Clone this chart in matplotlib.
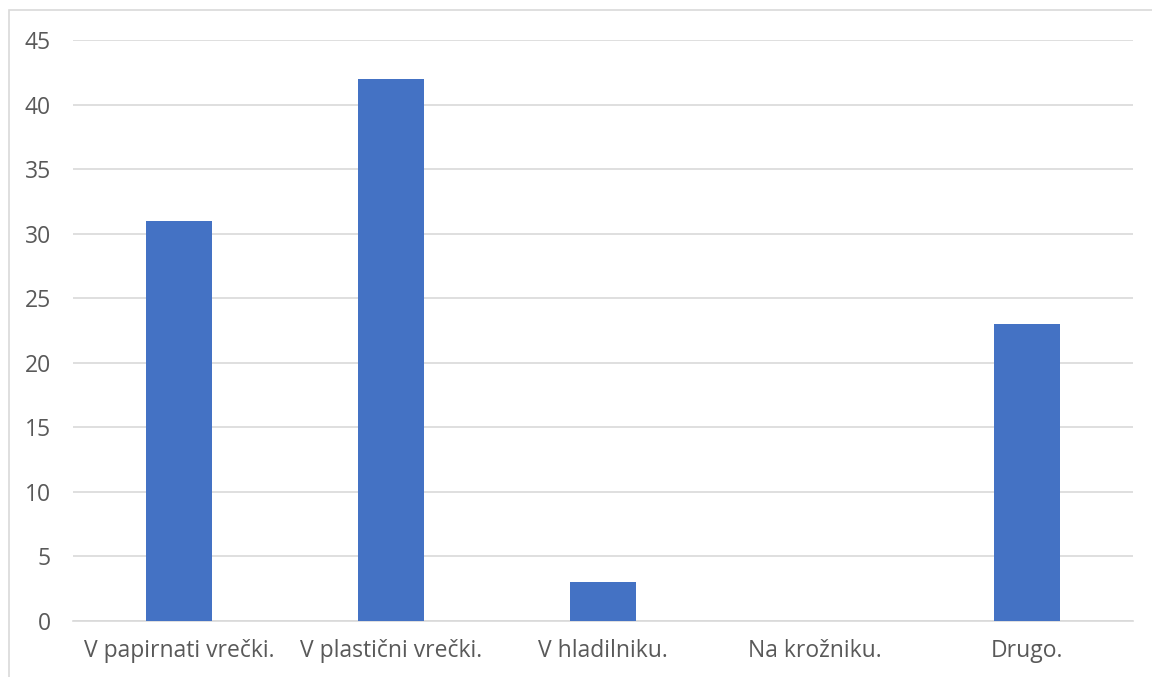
import matplotlib.pyplot as plt
from matplotlib.patches import Rectangle

categories = ['V papirnati vrečki.', 'V plastični vrečki.', 'V hladilniku.',
              'Na krožniku.', 'Drugo.']
values = [31, 42, 3, 0, 23]
y_ticks = [0, 5, 10, 15, 20, 25, 30, 35, 40, 45]

plt.rcParams['font.family'] = ['Open Sans', 'DejaVu Sans']

fig = plt.figure(figsize=(11.52, 6.77), dpi=100)
ax = fig.add_axes([73 / 1152, 1 - 621 / 677, 1060 / 1152, 581 / 677])

# outer chart frame (runs off the right and bottom of the image)
fig.patches.append(Rectangle((9 / 1152, -0.05), 1.1, 1 - 10 / 677 + 0.05,
                             transform=fig.transFigure, fill=False,
                             edgecolor='#d9d9d9', linewidth=1.2))

x = range(len(categories))
ax.bar(x, values, width=0.31, color='#4472c4', zorder=3)

ax.set_xlim(-0.5, len(categories) - 0.5)
ax.set_ylim(0, 45)
ax.set_yticks(y_ticks)
ax.set_xticks(list(x))
ax.set_xticklabels(categories)
ax.grid(axis='y', color='#d9d9d9', linewidth=1.2, zorder=0)
for s in ['top', 'right', 'left']:
    ax.spines[s].set_visible(False)
ax.spines['bottom'].set_color('#d9d9d9')
ax.spines['bottom'].set_linewidth(1.2)
ax.tick_params(axis='both', length=0, labelsize=16.5, colors='#595959')
ax.tick_params(axis='y', pad=16)
ax.tick_params(axis='x', pad=13)

fig.savefig('out.png', dpi=100)
